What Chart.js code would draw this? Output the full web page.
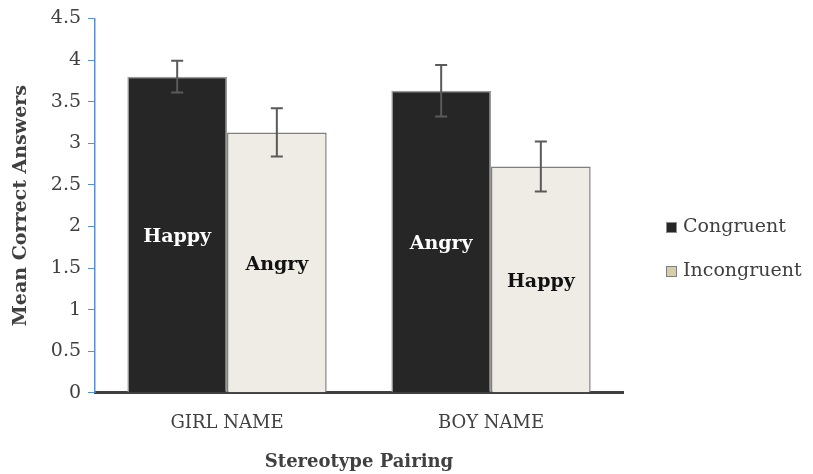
<!DOCTYPE html>
<html>
<head>
<meta charset="utf-8">
<script src="https://cdn.jsdelivr.net/npm/chart.js@4"></script>
<style>
  html, body { margin: 0; padding: 0; background: #fff; }
  #wrap { width: 813px; height: 474px; position: relative; }
</style>
</head>
<body>
<div id="wrap"><canvas id="bar-chart-area" width="813" height="474"></canvas></div>
<script>
var arrLabel = ['GIRL NAME', 'BOY NAME'];
var arrCongruent = [3.80, 3.63];
var arrIncongruent = [3.13, 2.72];
var arrErrCongruent = [0.19, 0.31];
var arrErrIncongruent = [0.29, 0.30];
var arrTagCongruent = ['Happy', 'Angry'];
var arrTagIncongruent = ['Angry', 'Happy'];
var seriesNames = ['Congruent', 'Incongruent'];

var serif = "'DejaVu Serif', 'Liberation Serif', serif";

// error bars + labels inside bars
var barExtras = {
    id: 'barExtras',
    afterDatasetsDraw: function (chart) {
        var ctx = chart.ctx;
        var yScale = chart.scales.y;
        var errs = [arrErrCongruent, arrErrIncongruent];
        var tags = [arrTagCongruent, arrTagIncongruent];
        var tagColor = ['#ffffff', '#111111'];
        chart.data.datasets.forEach(function (ds, di) {
            var meta = chart.getDatasetMeta(di);
            meta.data.forEach(function (bar, i) {
                var v = ds.data[i];
                var x = bar.x;
                var yTop = yScale.getPixelForValue(v + errs[di][i]);
                var yBot = yScale.getPixelForValue(v - errs[di][i]);
                ctx.save();
                ctx.strokeStyle = '#5a5a5a';
                ctx.lineWidth = 2;
                ctx.beginPath();
                ctx.moveTo(x, yTop); ctx.lineTo(x, yBot);
                ctx.moveTo(x - 6, yTop); ctx.lineTo(x + 6, yTop);
                ctx.moveTo(x - 6, yBot); ctx.lineTo(x + 6, yBot);
                ctx.stroke();

                ctx.fillStyle = tagColor[di];
                ctx.font = "bold 19px " + serif;
                ctx.textAlign = 'center';
                ctx.textBaseline = 'middle';
                var yMid = (bar.y + bar.base) / 2 + 3;
                ctx.fillText(tags[di][i], x, yMid);
                ctx.restore();
            });
        });
    },
    afterDraw: function (chart) {
        var ctx = chart.ctx;
        var fills = ['#262626', '#d6cfa6'];
        var borders = ['#8c8c8c', '#7f7f7f'];
        var ys = [227, 271];
        ctx.save();
        seriesNames.forEach(function (name, i) {
            ctx.fillStyle = fills[i];
            ctx.fillRect(666, ys[i] - 5, 11, 11);
            ctx.strokeStyle = borders[i];
            ctx.lineWidth = 1;
            ctx.strokeRect(666.5, ys[i] - 4.5, 10, 10);
            ctx.fillStyle = '#404040';
            ctx.font = "19px " + serif;
            ctx.textAlign = 'left';
            ctx.textBaseline = 'middle';
            ctx.fillText(name, 683, ys[i]);
        });
        ctx.restore();
    }
};

var configBar = {
    type: 'bar',
    data: {
        labels: arrLabel,
        datasets: [{
            label: seriesNames[0],
            data: arrCongruent,
            backgroundColor: '#262626',
            borderColor: '#9a9a9a',
            borderWidth: 1.5,
            barPercentage: 1,
            categoryPercentage: 0.755
        }, {
            label: seriesNames[1],
            data: arrIncongruent,
            backgroundColor: '#eeece4',
            borderColor: '#7f7f7f',
            borderWidth: 1.5,
            barPercentage: 1,
            categoryPercentage: 0.755
        }]
    },
    options: {
        responsive: false,
        animation: false,
        layout: { padding: { top: 15, right: 190, left: 10, bottom: 1 } },
        plugins: {
            legend: { display: false },
            tooltip: { enabled: false }
        },
        scales: {
            x: {
                grid: { display: false },
                border: { color: '#404040', width: 3 },
                ticks: { color: '#404040', font: { family: serif, size: 18 }, padding: 12 },
                title: {
                    display: true, text: 'Stereotype Pairing', color: '#404040',
                    font: { family: serif, size: 18, weight: 'bold' }, padding: { top: 5, bottom: 0 }
                }
            },
            y: {
                min: 0, max: 4.5,
                ticks: {
                    stepSize: 0.5, color: '#404040', font: { family: serif, size: 19 }, padding: 7,
                    callback: function (v) { return String(v); }
                },
                grid: { drawOnChartArea: false, color: '#5b8fd0', tickLength: 7 },
                border: { color: '#5b8fd0', width: 1.5 },
                title: {
                    display: true, text: 'Mean Correct Answers', color: '#404040',
                    font: { family: serif, size: 19, weight: 'bold' }, padding: { top: 0, bottom: 11 }
                }
            }
        }
    },
    plugins: [barExtras]
};

var myChartBar = document.getElementById('bar-chart-area').getContext('2d');
var myBar = new Chart(myChartBar, configBar);
</script>
</body>
</html>
